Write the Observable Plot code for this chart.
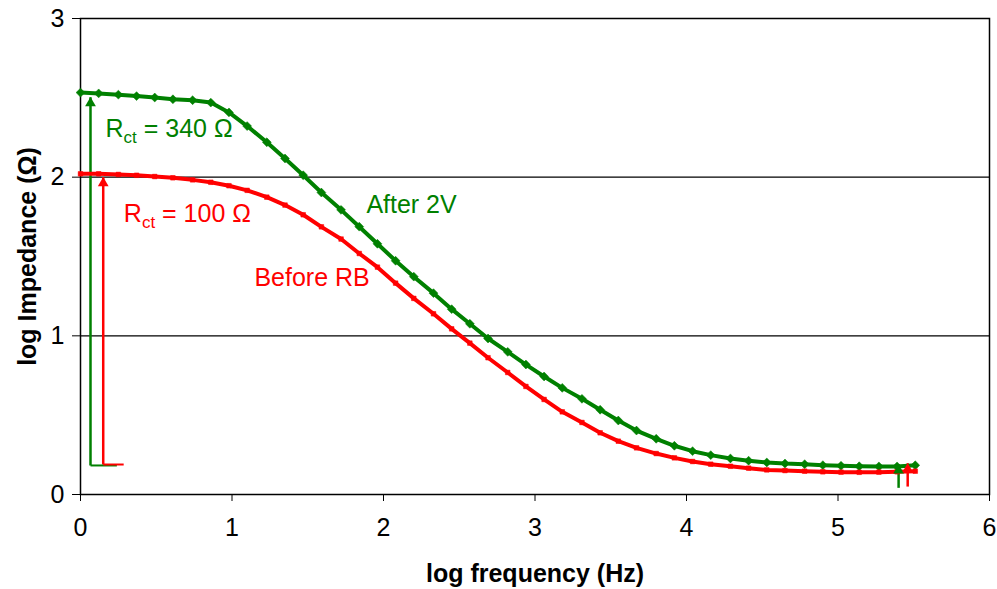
<!DOCTYPE html>
<html><head><meta charset="utf-8">
<script src="https://cdn.jsdelivr.net/npm/d3@7"></script>
<script src="https://cdn.jsdelivr.net/npm/@observablehq/plot@0.6"></script>
<style>
body{margin:0;background:#fff;}
#chart svg{display:block;}
</style>
</head><body><div id="chart"></div>
<script>
// log frequency (Hz)
const logFreq = [0.00,0.12,0.25,0.37,0.49,0.61,0.74,0.86,0.98,1.10,1.23,1.35,1.47,1.59,1.72,1.84,1.96,2.08,2.20,2.33,2.45,2.57,2.69,2.82,2.94,3.06,3.18,3.31,3.43,3.55,3.67,3.80,3.92,4.04,4.16,4.29,4.41,4.53,4.65,4.78,4.90,5.02,5.14,5.27,5.39,5.51];
// log Impedance (Ω), "After 2V"
const after2V = [2.533,2.528,2.520,2.511,2.502,2.491,2.485,2.470,2.408,2.322,2.220,2.118,2.012,1.903,1.794,1.688,1.580,1.473,1.373,1.269,1.168,1.076,0.983,0.899,0.819,0.744,0.672,0.603,0.534,0.466,0.403,0.351,0.307,0.273,0.248,0.227,0.213,0.202,0.195,0.191,0.185,0.181,0.178,0.177,0.177,0.184];
// log Impedance (Ω), "Before RB"
const beforeRB = [2.021,2.021,2.017,2.012,2.004,1.996,1.983,1.968,1.946,1.917,1.874,1.824,1.763,1.687,1.610,1.519,1.433,1.332,1.236,1.139,1.044,0.954,0.862,0.769,0.681,0.599,0.521,0.454,0.389,0.336,0.294,0.258,0.231,0.208,0.191,0.178,0.166,0.155,0.151,0.147,0.143,0.141,0.140,0.141,0.143,0.147];

const xTicks = [0,1,2,3,4,5,6];
const yTicks = [0,1,2,3];
const xTitle = "log frequency (Hz)";
const yTitle = "log Impedance (Ω)";

// annotations
const seriesNames = ["After 2V", "Before RB"];
const seriesColors = ["#008000", "#ff0000"];
const arrowSeries = ["After 2V", "Before RB", "After 2V", "Before RB"];
const arrowX = [0.066, 0.150, 5.40, 5.46];
const arrowFrom = [0.183, 0.189, 0.042, 0.050];
const arrowTo = [2.504, 2.000, 0.190, 0.197];
const baseX1 = [0.066, 0.150];
const baseX2 = [0.240, 0.285];
const baseY = [0.183, 0.189];
const labelText = ["Rct = 340 Ω", "Rct = 100 Ω", "After 2V", "Before RB"];
const labelSeries = ["After 2V", "Before RB", "After 2V", "Before RB"];
const labelX = [0.165, 0.286, 1.887, 1.148];
const labelY = [2.256, 1.716, 1.773, 1.317];

const colorOf = s => seriesColors[seriesNames.indexOf(s)];
const greenData = logFreq.map((x, i) => ({x, y: after2V[i]}));
const redData = logFreq.map((x, i) => ({x, y: beforeRB[i]}));
const arrows = arrowX.map((x, i) => ({x, y1: arrowFrom[i], y2: arrowTo[i], s: arrowSeries[i]}));
const bases = baseX1.map((x1, i) => ({x1, x2: baseX2[i], y: baseY[i], s: seriesNames[i]}));
const labels = labelText.map((t, i) => ({t, x: labelX[i], y: labelY[i], s: labelSeries[i]}));

const font = "Arial, 'Liberation Sans', sans-serif";

const chart = Plot.plot({
  width: 997,
  height: 589,
  marginLeft: 80,
  marginRight: 8,
  marginTop: 18,
  marginBottom: 95,
  style: {fontFamily: font, fontSize: "25px", color: "#000", background: "#fff"},
  x: {domain: [0, 6], ticks: xTicks, tickSize: 7, tickPadding: 17, label: null, tickFormat: d => String(d)},
  y: {domain: [0, 3], ticks: yTicks, tickSize: 8, tickPadding: 8, label: null, tickFormat: d => String(d)},
  marks: [
    Plot.ruleY(yTicks.filter(v => v > 0 && v < 3), {stroke: "#000", strokeWidth: 1.2}),
    Plot.frame({stroke: "#000", strokeWidth: 1.5}),
    // arrows
    Plot.link(arrows, {x1: "x", x2: "x", y1: "y1", y2: "y2", stroke: d => colorOf(d.s), strokeWidth: 2.5}),
    Plot.link(bases, {x1: "x1", x2: "x2", y1: "y", y2: "y", stroke: d => colorOf(d.s), strokeWidth: 2}),
    Plot.line(greenData, {x: "x", y: "y", stroke: seriesColors[0], strokeWidth: 4}),
    Plot.line(redData, {x: "x", y: "y", stroke: seriesColors[1], strokeWidth: 4}),
    Plot.dot(greenData, {x: "x", y: "y", symbol: "diamond2", r: 4, fill: seriesColors[0], stroke: seriesColors[0], strokeWidth: 0.5}),
    Plot.dot(redData, {x: "x", y: "y", symbol: "square", r: 2.6, fill: seriesColors[1], stroke: seriesColors[1], strokeWidth: 0.5}),
    Plot.dot(arrows, {x: "x", y: "y2", symbol: "triangle", r: 4, dy: 6, fill: d => colorOf(d.s), stroke: "none"}),
    // labels
    Plot.text(labels, {x: "x", y: "y", text: "t", fill: d => colorOf(d.s), textAnchor: "start", lineAnchor: "bottom", fontSize: 25}),
    // axis titles
    Plot.text([xTitle], {text: d => d, frameAnchor: "bottom", dy: 79, textAnchor: "middle", fontWeight: "bold", fontSize: 25, fill: "#000", lineAnchor: "middle"}),
    Plot.text([yTitle], {text: d => d, frameAnchor: "left", dx: -53, rotate: -90, textAnchor: "middle", fontWeight: "bold", fontSize: 25, fill: "#000", lineAnchor: "middle"})
  ]
});
document.getElementById("chart").appendChild(chart);

// subscripts for R_ct labels
chart.querySelectorAll("text").forEach(el => {
  const s = el.textContent;
  if (s.startsWith("Rct")) {
    const rest = s.slice(3);
    el.textContent = "";
    const ns = "http://www.w3.org/2000/svg";
    const a = document.createElementNS(ns, "tspan"); a.textContent = "R";
    const b = document.createElementNS(ns, "tspan"); b.textContent = "ct";
    b.setAttribute("font-size", "17px"); b.setAttribute("dy", "6");
    const c = document.createElementNS(ns, "tspan"); c.textContent = rest; c.setAttribute("dy", "-6");
    el.appendChild(a); el.appendChild(b); el.appendChild(c);
  }
});
</script>
</body></html>
